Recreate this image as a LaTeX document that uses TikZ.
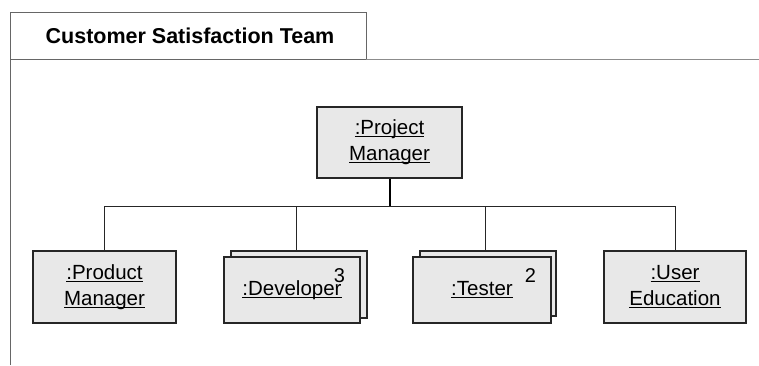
\documentclass[tikz,border=0pt]{standalone}
\usepackage{fontspec}
\setmainfont{Liberation Sans}
% underline set just below the baseline, crossing descenders
\newcommand\undl[1]{\leavevmode\setbox0\hbox{#1}\rlap{\rule[-2.4pt]{\wd0}{0.9pt}}\box0}
\tikzset{
  objbox/.style={draw=black!85, line width=1.1pt, fill=black!9, inner sep=0pt,
    align=center, font=\fontsize{20.5}{26}\selectfont},
  frameline/.style={draw=black!60, line width=0.9pt},
  link/.style={draw=black!85, line width=0.9pt},
  multi/.style={font=\fontsize{20}{24}\selectfont}
}
\begin{document}
\begin{tikzpicture}[x=1pt,y=-1pt]
\useasboundingbox (0,0) rectangle (759,365);

% package frame with name tab
\draw[frameline] (10,365) -- (10,12) -- (366,12) -- (366,59);
\draw[frameline] (10,59) -- (366,59);
\draw[draw=black!45, line width=0.8pt] (366,59) -- (759,59);
\node[font=\bfseries\fontsize{21.5}{24}\selectfont] (title) at (190,36) {Customer Satisfaction Team};

% project manager
\node[objbox, minimum width=145pt, minimum height=71pt] (pm) at (389.5,142.5)
  {\undl{:Project}\\\undl{Manager}};

% team members
\node[objbox, minimum width=143pt, minimum height=72pt] (prod) at (104.5,287)
  {\undl{:Product}\\\undl{Manager}};

\node[objbox, minimum width=136pt, minimum height=67pt] (devback) at (299,284.5) {};
\node[objbox, minimum width=136pt, minimum height=66pt] (dev) at (292,290)
  {\undl{:Developer}};
\node[multi] (devn) at (339.5,276) {3};

\node[objbox, minimum width=136pt, minimum height=65pt] (testback) at (488,283.5) {};
\node[objbox, minimum width=138pt, minimum height=66pt] (test) at (482,290)
  {\undl{:Tester}};
\node[multi] (testn) at (530.5,276) {2};

\node[objbox, minimum width=142pt, minimum height=72pt] (user) at (675,287)
  {\undl{:User}\\\undl{Education}};

% organisation tree
\coordinate (bus) at (0,206);
\draw[draw=black, line width=2pt] (pm.south) -- (pm.south |- bus);
\draw[link] (prod.north |- bus) -- (user.north |- bus);
\draw[link] (prod.north) -- (prod.north |- bus);
\draw[link] ([xshift=-3pt]devback.north) -- ([xshift=-3pt]devback.north |- bus);
\draw[link] ([xshift=-3pt]testback.north) -- ([xshift=-3pt]testback.north |- bus);
\draw[link] (user.north) -- (user.north |- bus);
\end{tikzpicture}
\end{document}
